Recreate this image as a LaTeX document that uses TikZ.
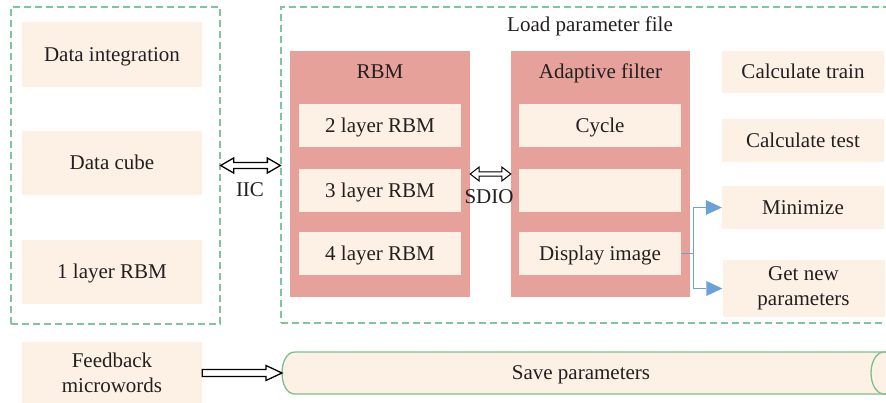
\documentclass[tikz,border=0pt]{standalone}
\usepackage{fontspec}
\setmainfont{Liberation Serif}
\usetikzlibrary{arrows.meta,calc}
\definecolor{peach}{RGB}{253,241,230}
\definecolor{pinkc}{RGB}{229,161,154}
\definecolor{greend}{RGB}{130,196,155}
\definecolor{greenc}{RGB}{125,190,140}
\definecolor{bluec}{RGB}{108,160,216}
\definecolor{textc}{RGB}{35,31,32}
\begin{document}
\begin{tikzpicture}[x=1pt,y=-1pt,
  every node/.style={font=\fontsize{21}{25}\selectfont, text=textc, inner sep=0pt},
  oneline/.style={text height=13.9pt, text depth=0pt},
  pbox/.style 2 args={fill=peach, minimum width=#1pt, minimum height=#2pt, oneline},
  pbox2/.style 2 args={fill=peach, minimum width=#1pt, minimum height=#2pt, align=center},
  pinkbox/.style 2 args={fill=pinkc, minimum width=#1pt, minimum height=#2pt},
  frame/.style 2 args={draw=greend, line width=1.3pt, dash pattern=on 7pt off 4pt, minimum width=#1pt, minimum height=#2pt},
  hollow/.style={draw=black, fill=white, line width=1.3pt, line join=miter},
  barrow/.style={draw=bluec, line width=1.3pt, -{Triangle[length=16pt,width=15pt,line width=0pt]}}
]
\useasboundingbox (0,0) rectangle (886,402);
\clip (0,0) rectangle (886,402);

% frames
\node[frame={209}{317}] (lframe) at (115.5,165.5) {};
\node[frame={614}{316}] (rframe) at (588,165) {};
\node[oneline] (load) at (590,25) {Load parameter file};

% left column
\node[pbox={180}{65}] (dint) at (112,54.5) {Data integration};
\node[pbox={180}{64}] (dcube) at (112,163) {Data cube};
\node[pbox={180}{64}] (lone) at (112,272) {1 layer RBM};
\node[pbox2={180}{61}] (fb) at (112,372.5) {Feedback\\microwords};

% RBM block
\node[pinkbox={180}{246}] (rbm) at (380,174) {};
\node[oneline] (rbmt) at (380,72) {RBM};
\node[pbox={162}{43}] (ltwo) at (380,125.5) {2 layer RBM};
\node[pbox={162}{43}] (lthree) at (380,190.5) {3 layer RBM};
\node[pbox={162}{43}] (lfour) at (380,253.5) {4 layer RBM};

% Adaptive filter block
\node[pinkbox={179}{246}] (adf) at (600.5,174) {};
\node[oneline] (adft) at (600.5,72) {Adaptive filter};
\node[pbox={162}{43}] (cyc) at (600,125.5) {Cycle};
\node[pbox={162}{43}] (empt) at (600,190.5) {};
\node[pbox={162}{43}] (disp) at (600,253.5) {Display image};

% right column
\node[pbox={162}{42}] (ctrain) at (803,72) {Calculate train};
\node[pbox={162}{43}] (ctest) at (803,140.5) {Calculate test};
\node[pbox={162}{43}] (mini) at (803,207.5) {Minimize};
\node[pbox2={162}{57}] (getn) at (803.5,288.5) {Get new\\parameters};

% cylinder
\draw[draw=greenc, line width=1.3pt, fill=peach] (897,352) -- (295,352)
  .. controls (277.7,352) and (277.7,394) .. (295,394) -- (897,394);
\draw[draw=greenc, line width=1.3pt, fill=peach] (884,373) ellipse [x radius=13pt, y radius=21pt];
\node[oneline] (save) at (581,373) {Save parameters};
\coordinate (cylL) at (282,373);

% IIC double arrow
\coordinate (iicB) at (rframe.west |- lframe.east);
\draw[hollow] (lframe.east) -- ++(13,-7.5) -- ++(0,4.5) -- ($(iicB)+(-13,-3)$) -- ++(0,-4.5)
  -- (iicB) -- ++(-13,7.5) -- ++(0,-4.5) -- ($(lframe.east)+(13,3)$) -- ++(0,4.5) -- cycle;
\node[oneline] (iic) at (250,190) {IIC};

% SDIO double arrow
\draw[hollow, line width=1pt] (rbm.east) -- ++(9,-7) -- ++(0,4.8) -- ($(adf.west)+(-9,-2.2)$) -- ++(0,-4.8)
  -- (adf.west) -- ++(-9,7) -- ++(0,-4.8) -- ($(rbm.east)+(9,2.2)$) -- ++(0,4.8) -- cycle;
\node[oneline] (sdio) at (489,197) {SDIO};

% feedback arrow
\draw[hollow] ($(fb.east |- cylL)+(0,-3.5)$) -- ($(cylL)+(-16,-3.5)$) -- ++(0,-4) -- (cylL)
  -- ++(-16,7.5) -- ++(0,-4) -- ($(fb.east |- cylL)+(0,3.5)$) -- cycle;

% blue arrows
\draw[barrow] (disp.east) -- ++(12,0) coordinate (bj) |- (mini.west);
\draw[barrow] (bj) |- (getn.west);
\end{tikzpicture}
\end{document}
